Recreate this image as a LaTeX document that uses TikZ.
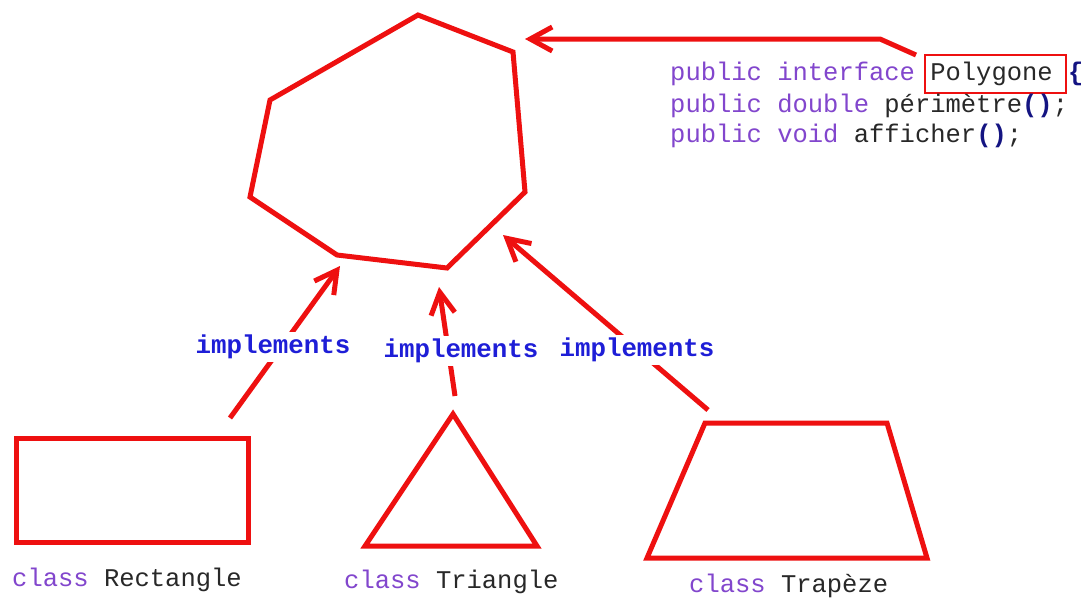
\documentclass[tikz,border=0pt]{standalone}
\usepackage{fontspec}
\setmonofont{Liberation Mono}
\usetikzlibrary{arrows.meta}
\definecolor{shred}{RGB}{238,16,16}
\definecolor{kw}{RGB}{130,70,205}
\definecolor{idc}{RGB}{40,40,40}
\definecolor{par}{RGB}{20,20,130}
\definecolor{impl}{RGB}{30,30,215}
\begin{document}
\begin{tikzpicture}[x=1pt,y=-1pt,
  shapeline/.style={draw=shred,line width=5pt,line join=miter},
  arr/.style={draw=shred,line width=5pt,-{Straight Barb[length=22pt,width=24pt]}},
  code/.style={anchor=base west,inner sep=0pt,font=\ttfamily\fontsize{25.5}{30}\selectfont},
  impllbl/.style={fill=white,inner sep=3pt,text=impl,font=\ttfamily\bfseries\fontsize{25.8}{30}\selectfont},
]
\useasboundingbox[fill=white] (0,0) rectangle (1087,600);

% heptagon (Polygone)
\coordinate (h1) at (418,15);
\coordinate (h2) at (513,52);
\coordinate (h3) at (525,192);
\coordinate (h4) at (447,268);
\coordinate (h5) at (337,255);
\coordinate (h6) at (250,197);
\coordinate (h7) at (270,100);
\draw[shapeline] (h1) -- (h2) -- (h3) -- (h4) -- (h5) -- (h6) -- (h7) -- cycle;

% arrow tips near heptagon
\coordinate (t0) at (525,39);
\coordinate (t1) at (340,266);
\coordinate (t2) at (439,287);
\coordinate (t3) at (503,235);

% rectangle
\node[shapeline,minimum width=232pt,minimum height=104pt,inner sep=0pt] (rect) at (132,490) {};
% triangle
\coordinate (tra) at (453,414);
\coordinate (trb) at (537,546);
\coordinate (trc) at (365,546);
\draw[shapeline] (tra) -- (trb) -- (trc) -- cycle;
% trapezoid
\coordinate (tza) at (705,423);
\coordinate (tzb) at (887,423);
\coordinate (tzc) at (927,558);
\coordinate (tzd) at (647,558);
\draw[shapeline] (tza) -- (tzb) -- (tzc) -- (tzd) -- cycle;

% arrow starts
\coordinate (s1) at (230,418);
\coordinate (s2) at (455,396);
\coordinate (s3) at (708,410);

\draw[arr] (s1) -- (t1);
\draw[arr] (s2) -- (t2);
\draw[arr] (s3) -- (t3);

\node[impllbl] (i1) at (273,347) {implements};
\node[impllbl] (i2) at (461,351) {implements};
\node[impllbl] (i3) at (637,350) {implements};

% code
\node[draw=shred,line width=2.5pt,minimum width=141pt,minimum height=38pt,inner sep=0pt] (pbox) at (995.5,74) {};
\coordinate (tbend) at (880,39);
\coordinate (tstart) at (916,55);
\draw[arr,line join=round] (tstart) -- (tbend) -- (t0);

\node[code] (l1) at (670,80) {\textcolor{kw}{public interface} \textcolor{idc}{Polygone} \textcolor{par}{\bfseries\{}};
\node[code] (l2) at (670,112) {\textcolor{kw}{public double} \textcolor{idc}{périmètre}\textcolor{par}{\bfseries()}\textcolor{idc}{;}};
\node[code] (l3) at (670,142) {\textcolor{kw}{public void} \textcolor{idc}{afficher}\textcolor{par}{\bfseries()}\textcolor{idc}{;}};

% class labels
\node[code] (cr) at (12,586) {\textcolor{kw}{class} \textcolor{idc}{Rectangle}};
\node[code] (ct) at (344,588) {\textcolor{kw}{class} \textcolor{idc}{Triangle}};
\node[code] (cz) at (689,592) {\textcolor{kw}{class} \textcolor{idc}{Trapèze}};
\end{tikzpicture}
\end{document}
